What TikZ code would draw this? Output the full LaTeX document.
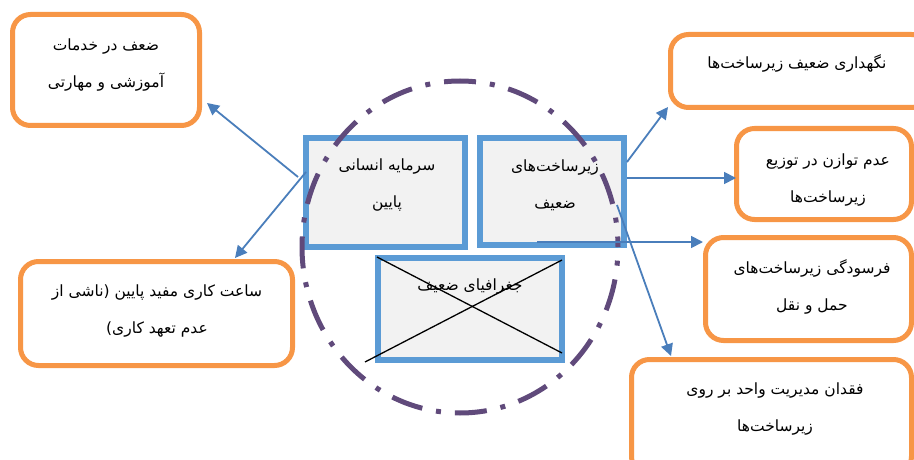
\documentclass[tikz,border=0pt]{standalone}
\usepackage{fontspec}
\newfontfamily\fa[Script=Arabic]{DejaVu Sans}
\TeXXeTstate=1
\usetikzlibrary{arrows.meta,shapes.geometric}
\definecolor{orangeC}{HTML}{F79646}
\definecolor{boxblue}{HTML}{5B9BD5}
\definecolor{boxfill}{HTML}{F2F2F2}
\definecolor{arrblue}{HTML}{4A7EBB}
\definecolor{ringpurple}{HTML}{604A7B}
\begin{document}
\begin{tikzpicture}[x=1pt,y=-1pt,
  bluebox/.style={draw=boxblue, fill=boxfill, line width=6pt, rectangle, inner sep=0pt, outer sep=0pt},
  obox/.style={draw=orangeC, fill=white, line width=5pt, rounded corners=18pt, rectangle, inner sep=0pt, outer sep=0pt},
  txt/.style={font=\fa\fontsize{15.5}{37}\selectfont, align=center, inner sep=0pt},
  arr/.style={draw=arrblue, line width=1.8pt, -{Triangle[length=12pt,width=12pt]}},
  ring/.style={draw=ringpurple, line width=5pt, ellipse, inner sep=0pt, dash pattern=on 32pt off 14pt on 5pt off 14pt, dash phase=21.5pt},
  crossline/.style={draw=black, line width=1.3pt}]
\useasboundingbox (0,0) rectangle (914,460);
\clip (0,0) rectangle (914,460);

% orange outcome boxes
\node[obox, minimum width=187pt, minimum height=111pt] (bA) at (106,70) {};
\node[obox, minimum width=272pt, minimum height=104pt] (bB) at (156.5,313.5) {};
\node[obox, minimum width=259pt, minimum height=73pt] (bC) at (800,71) {};
\node[obox, minimum width=175pt, minimum height=91pt] (bD) at (824,174) {};
\node[obox, minimum width=206pt, minimum height=103pt] (bE) at (808.5,289) {};
\node[obox, minimum width=280pt, minimum height=115pt] (bF) at (771.5,417) {};

\node[txt] (tA) at (106,65) {\beginR ضعف در خدمات\endR\\\beginR آموزشی و مهارتی\endR};
\node[txt] (tB) at (157,311.5) {\beginR ساعت کاری مفید پایین (ناشی از\endR\\\beginR عدم تعهد کاری)\endR};
\node[txt] (tC) at (797,63) {\beginR نگهداری ضعیف زیرساخت‌ها\endR};
\node[txt] (tD) at (828,180) {\beginR عدم توازن در توزیع\endR\\\beginR زیرساخت‌ها\endR};
\node[txt] (tE) at (812,286.5) {\beginR فرسودگی زیرساخت‌های\endR\\\beginR حمل و نقل\endR};
\node[txt] (tF) at (775,409.5) {\beginR فقدان مدیریت واحد بر روی\endR\\\beginR زیرساخت‌ها\endR};

% central blue boxes
\node[bluebox, minimum width=159pt, minimum height=109pt] (b1) at (385.5,192.5) {};
\node[bluebox, minimum width=144pt, minimum height=107pt] (b2) at (552,191.5) {};
\node[bluebox, minimum width=184pt, minimum height=102pt] (b3) at (470,309) {};

\node[txt] (t1) at (387,185) {\beginR سرمایه انسانی\endR\\\beginR پایین\endR};
\node[txt] (t2) at (555,185) {\beginR زیرساخت‌های\endR\\\beginR ضعیف\endR};
\node[txt] (t3) at (470,287) {\beginR جغرافیای ضعیف\endR};

% dash-dot ring
\node[ring, minimum width=316pt, minimum height=332pt] (ring) at (460,247) {};

% cross over the third box
\coordinate (x1a) at (377,257);
\coordinate (x1b) at (562,353);
\coordinate (x2a) at (365,362);
\coordinate (x2b) at (562,260);
\draw[crossline] (x1a) -- (x1b);
\draw[crossline] (x2a) -- (x2b);

% arrows
\coordinate (s1) at (298,177);  \coordinate (e1) at (207,103);
\coordinate (s2) at (306,172);  \coordinate (e2) at (235,258);
\coordinate (s3) at (627,162);  \coordinate (e3) at (668,107);
\coordinate (s4) at (627,178);  \coordinate (e4) at (736,178);
\coordinate (s5) at (537,242);  \coordinate (e5) at (703,242);
\coordinate (s6) at (617,205);  \coordinate (e6) at (671,356);
\draw[arr] (s1) -- (e1);
\draw[arr] (s2) -- (e2);
\draw[arr] (s3) -- (e3);
\draw[arr] (s4) -- (e4);
\draw[arr] (s5) -- (e5);
\draw[arr] (s6) -- (e6);
\end{tikzpicture}
\end{document}
